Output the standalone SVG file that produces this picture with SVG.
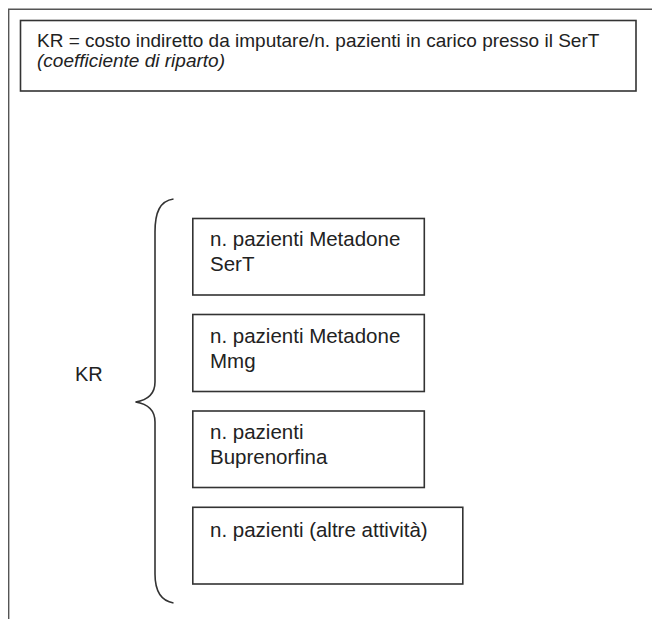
<svg xmlns="http://www.w3.org/2000/svg" width="652" height="619" viewBox="0 0 652 619">
<style>
  .box { fill: #fff; stroke: #333; stroke-width: 1.6; }
  .t { font-family: "Liberation Sans", Arial, sans-serif; fill: #222; }
  .bt { font-size: 20.5px; }
  .hd { font-size: 19px; }
  .frame { fill: none; stroke: #555; stroke-width: 1.4; }
  .brace { fill: none; stroke: #333; stroke-width: 1.6; }
</style>
<rect width="652" height="619" fill="#fff"/>
<path class="frame" d="M8.7,619 L8.7,9.2 L652,9.2"/>
<g id="header">
  <rect class="box" x="20.5" y="20.5" width="615.5" height="70.5"/>
  <text class="t hd" x="37" y="46.7">KR = costo indiretto da imputare/n. pazienti in carico presso il SerT</text>
  <text class="t hd" x="37" y="66.5" font-style="italic">(coefficiente di riparto)</text>
</g>
<g id="kr">
  <text class="t" x="75" y="381" font-size="20">KR</text>
</g>
<g id="connectors">
  <path class="brace" d="M173.5,199 C160,201 155,212 155,232 L155,382 C155,394 148,400 135.5,402 C148,404 155,410 155,422 L155,574 C155,592 162,601 173.5,603"/>
</g>
<g id="box1">
  <rect class="box" x="192.8" y="218.5" width="231.5" height="76.5"/>
  <text class="t bt" x="210" y="246">n. pazienti Metadone</text>
  <text class="t bt" x="210" y="271">SerT</text>
</g>
<g id="box2">
  <rect class="box" x="192.8" y="314.5" width="231.5" height="77"/>
  <text class="t bt" x="210" y="342.5">n. pazienti Metadone</text>
  <text class="t bt" x="210" y="367.5">Mmg</text>
</g>
<g id="box3">
  <rect class="box" x="192.8" y="411" width="231.5" height="76.5"/>
  <text class="t bt" x="210" y="439">n. pazienti</text>
  <text class="t bt" x="210" y="464">Buprenorfina</text>
</g>
<g id="box4">
  <rect class="box" x="192.8" y="507.3" width="270" height="76.7"/>
  <text class="t bt" x="210" y="536.5">n. pazienti (altre attività)</text>
</g>
</svg>
